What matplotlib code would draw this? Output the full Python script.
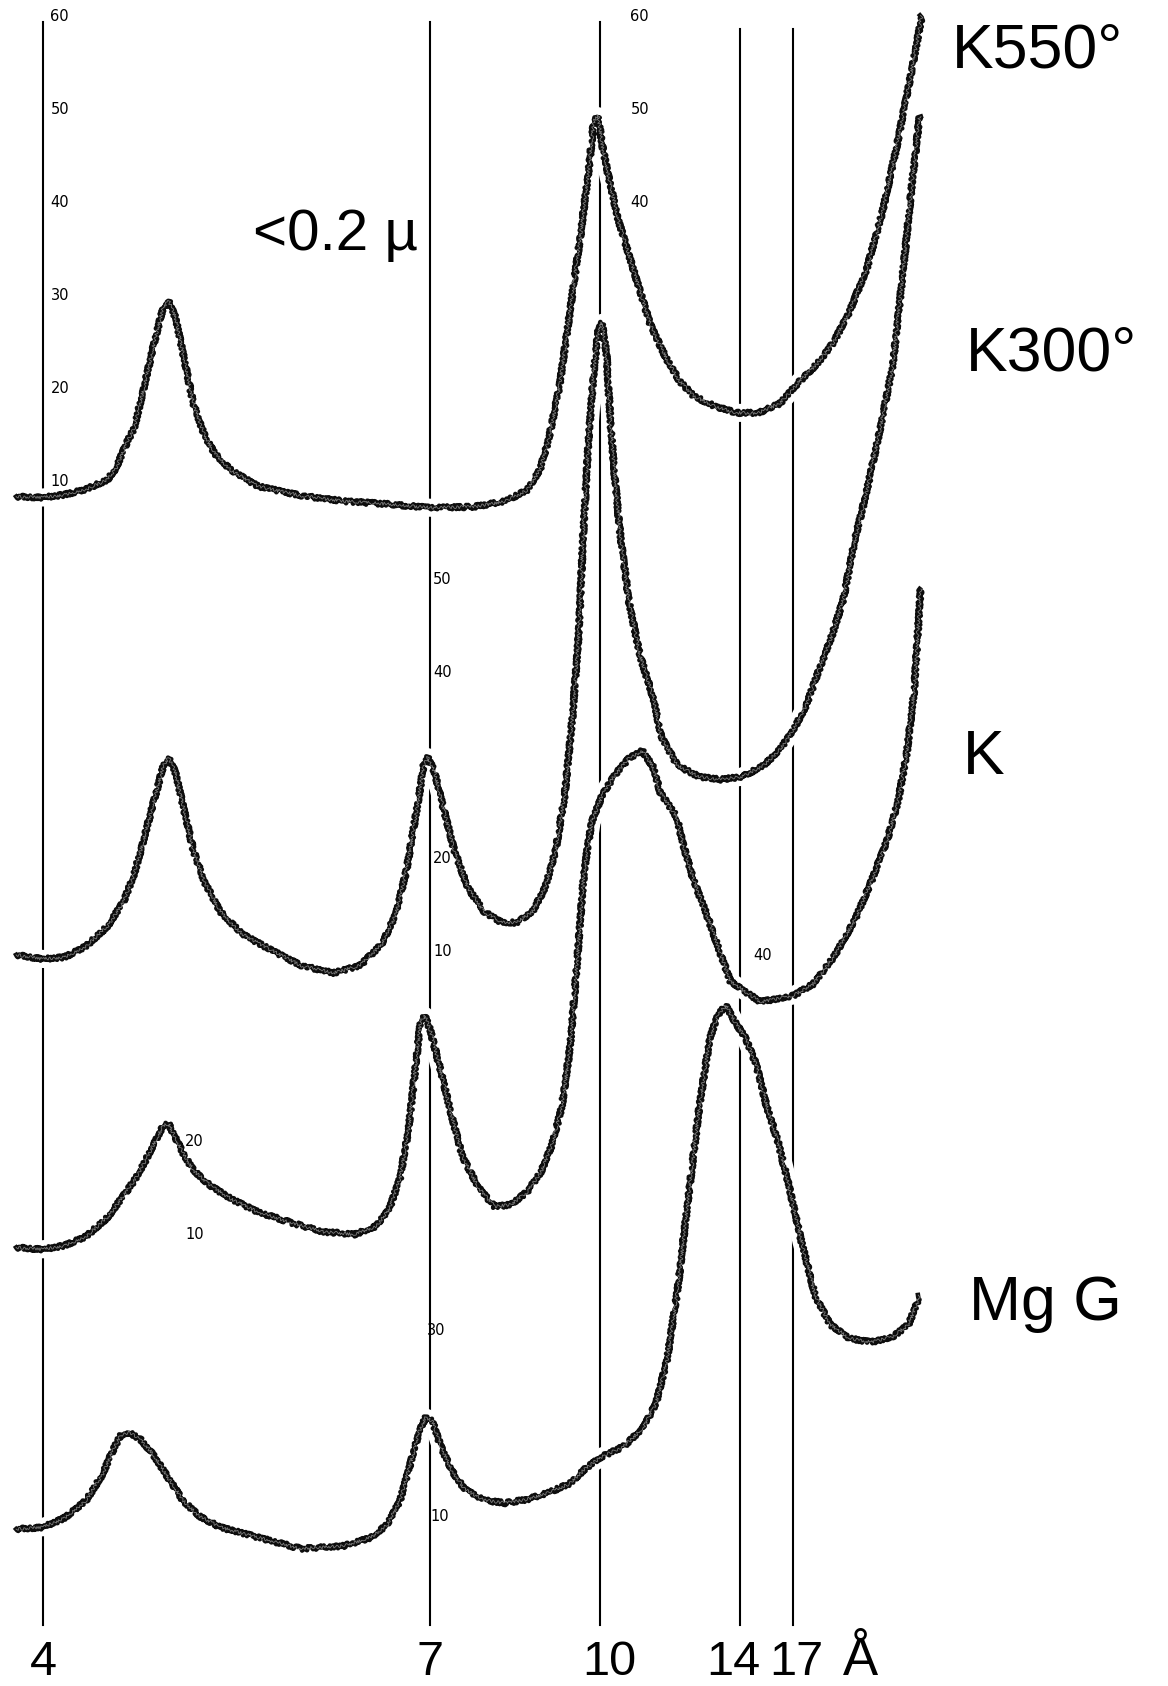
import matplotlib
matplotlib.use("Agg")
import matplotlib.pyplot as plt
from matplotlib import font_manager

# x-ray traces: x in degrees 2-theta, y in counts (scale bars)
k550_tt = [22.81, 22.20, 21.71, 21.22, 20.74, 20.54, 20.30, 20.13, 19.88, 19.64,
           19.47, 19.35, 19.20, 19.03, 18.79, 18.54, 18.30, 17.93, 17.32, 16.35,
           15.37, 14.39, 13.42, 12.44, 11.71, 11.22, 10.93, 10.74, 10.49, 10.25,
           10.00, 9.83, 9.71, 9.61, 9.52, 9.37, 9.15, 8.78, 8.42, 8.05,
           7.76, 7.44, 6.96, 6.47, 5.98, 5.49, 5.08, 4.64, 4.27, 3.91,
           3.52, 3.18, 2.86, 2.57, 2.27]
k550_c = [8.4, 8.3, 8.6, 9.2, 10.2, 11.5, 14.2, 15.8, 20.8, 25.7,
          28.8, 29.4, 27.7, 23.9, 18.4, 15.0, 13.0, 11.2, 9.5, 8.5,
          7.9, 7.6, 7.2, 7.3, 7.9, 9.1, 11.3, 14.4, 20.2, 28.3,
          36.9, 43.3, 48.8, 49.3, 46.2, 42.7, 38.1, 32.3, 26.8, 23.1,
          20.8, 19.2, 18.1, 17.4, 17.4, 18.4, 20.6, 22.7, 25.0, 28.3,
          32.9, 38.7, 45.6, 52.5, 60.1]

k300_tt = [22.81, 22.20, 21.71, 21.22, 20.74, 20.37, 20.13, 19.88, 19.64, 19.47,
           19.35, 19.20, 19.03, 18.79, 18.54, 18.18, 17.69, 17.08, 16.35, 15.61,
           15.01, 14.52, 14.20, 13.96, 13.71, 13.57, 13.47, 13.32, 13.13, 12.88,
           12.57, 12.20, 11.83, 11.47, 11.10, 10.81, 10.57, 10.37, 10.20, 10.05,
           9.955, 9.83, 9.71, 9.61, 9.52, 9.42, 9.32, 9.23, 9.10, 8.91,
           8.66, 8.35, 8.18, 7.81, 7.32, 6.83, 6.35, 5.86, 5.49, 5.13,
           4.88, 4.61, 4.30, 4.05, 3.78, 3.54, 3.22, 2.93, 2.69, 2.49,
           2.32]
k300_c = [9.65, 9.2, 9.4, 10.6, 12.7, 15.4, 18.4, 22.7, 27.0, 30.0,
          30.8, 29.3, 25.8, 20.9, 17.5, 14.3, 11.9, 10.3, 8.5, 7.7,
          8.5, 10.8, 14.0, 18.7, 25.6, 30.0, 30.9, 29.3, 25.6, 21.0,
          16.9, 14.3, 13.2, 13.1, 14.3, 16.9, 21.0, 26.8, 34.9, 44.2,
          54.4, 64.9, 72.4, 76.7, 77.6, 74.2, 66.1, 60.9, 54.4, 47.6,
          41.8, 37.1, 33.1, 30.0, 28.8, 28.5, 28.8, 30.0, 31.7, 34.3,
          36.6, 40.2, 44.1, 47.9, 54.5, 59.1, 66.1, 73.0, 83.4, 92.7,
          99.8]

k_tt = [22.81, 22.20, 21.71, 21.22, 20.74, 20.37, 20.13, 19.88, 19.64, 19.47,
        19.35, 19.20, 19.03, 18.79, 18.42, 17.93, 17.32, 16.59, 15.86, 15.13,
        14.64, 14.35, 14.10, 13.91, 13.76, 13.64, 13.54, 13.42, 13.22, 12.98,
        12.69, 12.32, 11.96, 11.59, 11.22, 10.91, 10.66, 10.44, 10.25, 10.08,
        9.93, 9.76, 9.52, 9.22, 8.91, 8.61, 8.37, 8.20, 7.83, 7.69,
        7.44, 7.15, 6.83, 6.61, 5.93, 5.18, 4.74, 4.27, 3.78, 3.37,
        3.05, 2.81, 2.61, 2.44, 2.30]
k_c = [8.6, 8.4, 8.8, 9.8, 11.8, 14.2, 15.8, 17.9, 20.2, 21.7,
       21.9, 20.4, 18.8, 16.9, 15.3, 13.8, 12.4, 11.3, 10.3, 10.0,
       10.9, 12.7, 16.1, 21.3, 27.7, 32.9, 33.5, 32.0, 28.3, 23.6,
       18.4, 15.0, 13.0, 13.2, 14.6, 16.7, 19.6, 23.6, 30.0, 39.8,
       49.1, 54.3, 57.2, 59.5, 61.2, 62.0, 60.3, 57.5, 54.9, 52.0,
       48.0, 44.4, 40.1, 37.2, 35.0, 35.7, 36.9, 39.8, 43.9, 48.5,
       52.5, 56.6, 61.8, 68.7, 79.4]

mgg_tt = [22.81, 22.20, 21.71, 21.22, 20.86, 20.61, 20.44, 20.25, 20.00, 19.71,
          19.40, 19.03, 18.66, 18.18, 17.32, 16.35, 15.37, 14.76, 14.39, 14.10,
          13.86, 13.66, 13.52, 13.37, 13.18, 12.93, 12.64, 12.20, 11.71, 11.22,
          10.74, 10.25, 9.88, 9.52, 9.03, 8.59, 8.30, 8.05, 7.81, 7.57,
          7.32, 7.08, 6.88, 6.71, 6.52, 6.27, 6.03, 5.78, 5.54, 5.30,
          5.00, 4.69, 4.35, 3.91, 3.42, 2.93, 2.57, 2.32]
mgg_c = [8.6, 8.8, 9.8, 11.7, 14.4, 17.1, 18.7, 19.0, 18.3, 16.7,
         14.4, 11.7, 10.0, 8.8, 7.7, 6.5, 6.8, 7.7, 9.1, 11.7,
         15.8, 19.2, 20.6, 20.2, 17.5, 14.9, 12.9, 11.7, 11.4, 11.8,
         12.5, 13.5, 15.2, 16.4, 17.5, 19.5, 22.1, 26.8, 34.3, 44.1,
         53.9, 61.4, 64.0, 64.9, 63.2, 61.4, 58.6, 53.9, 50.4, 45.8,
         39.5, 33.7, 30.6, 29.1, 28.7, 29.3, 30.6, 33.7]

# vertical offset of each trace on the chart (counts)
names = ["K550°", "K300°", "K", "Mg G"]
offsets = [119.48, 68.96, 38.55, 8.27]

# d-spacing reference lines (Å) and where they sit in 2-theta
line_d = ["4", "7", "10", "14", "17"]
line_tt = [22.20, 13.42, 9.565, 6.395, 5.20]

# scale-bar numbers: (trace index, 2-theta, counts)
scale_marks = [(0, 22.03, 60), (0, 22.03, 50), (0, 22.03, 40), (0, 22.03, 30),
               (0, 22.03, 20), (0, 22.03, 10),
               (0, 8.88, 60), (0, 8.88, 50), (0, 8.88, 40),
               (1, 13.35, 50), (1, 13.35, 40), (1, 13.35, 20), (1, 13.35, 10),
               (2, 18.98, 20), (2, 18.98, 10), (2, 6.10, 40),
               (3, 13.50, 30), (3, 13.42, 10)]

available = {f.name for f in font_manager.fontManager.ttflist}
big_font = "Liberation Sans" if "Liberation Sans" in available else "DejaVu Sans"

fig = plt.figure(figsize=(11.68, 16.86), dpi=100)
ax = fig.add_axes([0, 0, 1, 1])
ax.set_xlim(23.175, -3.312)
ax.set_ylim(0, 181.27)
ax.axis("off")

xt = ax.get_xaxis_transform()
tops = [0.987, 0.987, 0.987, 0.983, 0.983]
for tt, top in zip(line_tt, tops):
    ax.plot([tt, tt], [0.036, top], transform=xt, color="black", lw=1.5, zorder=1)

traces = [(k550_tt, k550_c), (k300_tt, k300_c), (k_tt, k_c), (mgg_tt, mgg_c)]

# white margin around the traces breaks the reference lines where they cross
for (tt, c), off in zip(traces, offsets):
    ax.plot(tt, [v + off for v in c], color="white", lw=13,
            solid_capstyle="round", solid_joinstyle="round", zorder=2)
for (tt, c), off in zip(traces, offsets):
    y = [v + off for v in c]
    ln, = ax.plot(tt, y, color="#0d0d0d", lw=3.3, solid_joinstyle="round", zorder=3)
    ln.set_sketch_params(scale=2.0, length=3, randomness=3)
    ln2, = ax.plot(tt, y, color="#9a9a9a", lw=0.6, alpha=0.8, zorder=4)
    ln2.set_sketch_params(scale=1.5, length=4, randomness=3)

for i, tt, val in scale_marks:
    ax.text(tt, offsets[i] + val, str(val), fontsize=10.5, family="DejaVu Sans",
            ha="left", va="center", zorder=5)

# trace labels
label_pos = [(0.815, 0.9598), (0.827, 0.780), (0.824, 0.5408), (0.830, 0.2168)]
for name, (lx, ly) in zip(names, label_pos):
    ax.text(lx, ly, name, transform=ax.transAxes, fontsize=45, family=big_font,
            ha="left", va="baseline")

ax.text(0.2164, 0.852, "<0.2 µ", transform=ax.transAxes, fontsize=42,
        family=big_font, ha="left", va="baseline")

# d-spacing labels along the bottom
label_tt = [22.20, 13.42, 9.35, 6.54, 5.12]
for lab, tt in zip(line_d, label_tt):
    ax.text(tt, 0.0064, lab, transform=xt, fontsize=35, family=big_font,
            ha="center", va="baseline")
ax.text(3.66, 0.0064, "Å", transform=xt, fontsize=38, family=big_font,
        ha="center", va="baseline")

fig.savefig("out.png", dpi=100)
